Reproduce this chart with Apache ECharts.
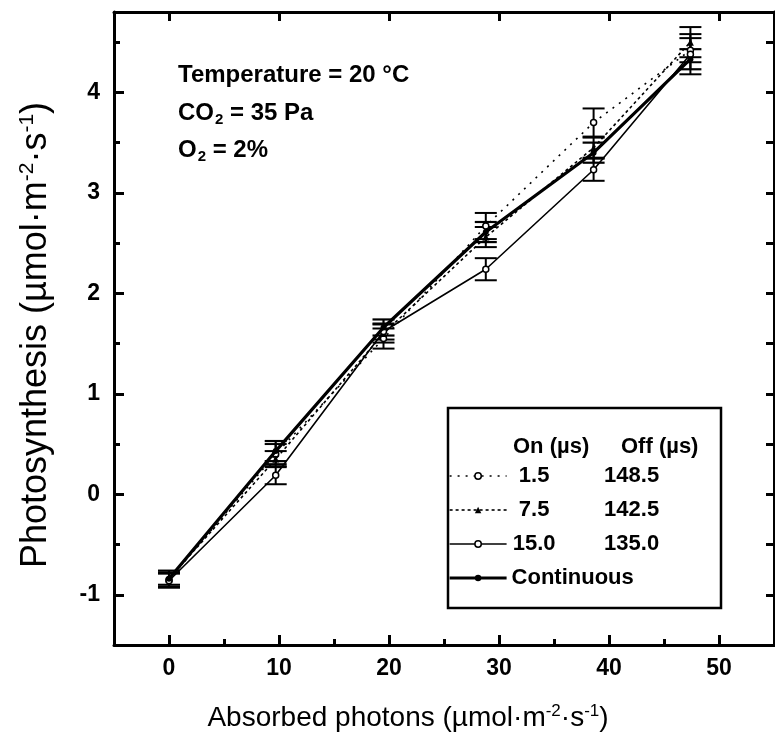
<!DOCTYPE html>
<html>
<head>
<meta charset="utf-8">
<script src="https://cdn.jsdelivr.net/npm/echarts@6/dist/echarts.min.js"></script>
<style>html,body{margin:0;padding:0;background:#fff;}#c{width:775px;height:740px;}</style>
</head>
<body>
<div id="c"></div>
<script>
// ---- data ----
const xPhotons = [0, 9.7, 19.5, 28.8, 38.6, 47.4];
const seriesNames = ['1.5', '7.5', '15.0', 'Continuous'];
const offTimes = ['148.5', '142.5', '135.0', ''];
const on1_5 = [-0.85, 0.40, 1.55, 2.67, 3.70, 4.42];
const err1_5 = [0.07, 0.10, 0.10, 0.13, 0.14, 0.12];
const on7_5 = [-0.84, 0.35, 1.60, 2.56, 3.45, 4.50];
const err7_5 = [0.06, 0.08, 0.09, 0.10, 0.10, 0.15];
const on15_0 = [-0.86, 0.19, 1.62, 2.24, 3.23, 4.38];
const err15_0 = [0.07, 0.09, 0.08, 0.11, 0.11, 0.20];
const cont = [-0.84, 0.43, 1.66, 2.61, 3.40, 4.33];
const errCont = [0.08, 0.10, 0.08, 0.10, 0.10, 0.10];
const xMajorTicks = [0, 10, 20, 30, 40, 50];
const xMinorTicks = [5, 15, 25, 35, 45];
const yMajorTicks = [-1, 0, 1, 2, 3, 4];
const yMinorTicks = [-0.5, 0.5, 1.5, 2.5, 3.5, 4.5];
const yAllTicks = [-1, -0.5, 0, 0.5, 1, 1.5, 2, 2.5, 3, 3.5, 4, 4.5];

const FONT = 'Liberation Sans, Arial, sans-serif';
const chart = echarts.init(document.getElementById('c'), null, {renderer: 'canvas'});

function pts(ys) { return xPhotons.map((x, i) => [x, ys[i]]); }
function errData(ys, es) { return xPhotons.map((x, i) => [x, ys[i] - es[i], ys[i] + es[i]]); }

function errSeries(ys, es, w) {
  return {
    type: 'custom', silent: true, z: 3,
    data: errData(ys, es),
    renderItem: function (params, api) {
      const x = api.value(0);
      const lo = api.coord([x, api.value(1)]);
      const hi = api.coord([x, api.value(2)]);
      const hw = 11;
      const st = {stroke: '#000', lineWidth: w};
      return {type: 'group', children: [
        {type: 'line', shape: {x1: lo[0], y1: lo[1], x2: hi[0], y2: hi[1]}, style: st},
        {type: 'line', shape: {x1: lo[0] - hw, y1: lo[1], x2: lo[0] + hw, y2: lo[1]}, style: st},
        {type: 'line', shape: {x1: hi[0] - hw, y1: hi[1], x2: hi[0] + hw, y2: hi[1]}, style: st}
      ]};
    }
  };
}

const base = {min: -5, max: 55, type: 'value', splitLine: {show: false}};
const ybase = {min: -1.5, max: 4.8, type: 'value', splitLine: {show: false}};

const lineStyles = [
  {color: '#000', width: 1.6, type: [2, 6]},
  {color: '#000', width: 1.6, type: [3, 3]},
  {color: '#000', width: 1.6, type: 'solid'},
  {color: '#000', width: 3.2, type: 'solid'}
];
const itemStyles = [
  {color: '#fff', borderColor: '#000', borderWidth: 1.5},
  {color: '#000', borderColor: '#000', borderWidth: 0},
  {color: '#fff', borderColor: '#000', borderWidth: 1.5},
  {color: '#000', borderColor: '#000', borderWidth: 0}
];
const symbols = ['circle', 'triangle', 'circle', 'circle'];

const option = {
  backgroundColor: '#fff',
  animation: false,
  grid: {left: 114, right: 1, top: 12, bottom: 95, containLabel: false},
  xAxis: [
    Object.assign({}, base, {position: 'bottom',
      axisLine: {show: true, onZero: false, lineStyle: {color: '#000', width: 3}},
      axisTick: {show: true, inside: true, length: 10, lineStyle: {color: '#000', width: 3}, customValues: xMajorTicks},
      axisLabel: {show: true, margin: 12, color: '#000', fontFamily: FONT, fontWeight: 'bold', fontSize: 23, customValues: xMajorTicks}}),
    Object.assign({}, base, {position: 'bottom',
      axisLine: {show: false, onZero: false},
      axisTick: {show: true, inside: true, length: 6, lineStyle: {color: '#000', width: 3}, customValues: xMinorTicks},
      axisLabel: {show: false}}),
    Object.assign({}, base, {position: 'top',
      axisLine: {show: true, onZero: false, lineStyle: {color: '#000', width: 3}},
      axisTick: {show: true, inside: true, length: 9, lineStyle: {color: '#000', width: 3}, customValues: xMajorTicks},
      axisLabel: {show: false}})
  ],
  yAxis: [
    Object.assign({}, ybase, {position: 'left',
      axisLine: {show: true, onZero: false, lineStyle: {color: '#000', width: 3}},
      axisTick: {show: true, inside: true, length: 10, lineStyle: {color: '#000', width: 3}, customValues: yMajorTicks},
      axisLabel: {show: true, margin: 14, color: '#000', fontFamily: FONT, fontWeight: 'bold', fontSize: 23, customValues: yMajorTicks}}),
    Object.assign({}, ybase, {position: 'left',
      axisLine: {show: false, onZero: false},
      axisTick: {show: true, inside: true, length: 6, lineStyle: {color: '#000', width: 3}, customValues: yMinorTicks},
      axisLabel: {show: false}}),
    Object.assign({}, ybase, {position: 'right',
      axisLine: {show: true, onZero: false, lineStyle: {color: '#000', width: 3}},
      axisTick: {show: true, inside: true, length: 8, lineStyle: {color: '#000', width: 3}, customValues: yAllTicks},
      axisLabel: {show: false}})
  ],
  legend: {
    data: seriesNames.map((n, i) => ({name: n, itemStyle: itemStyles[i], lineStyle: lineStyles[i]})),
    orient: 'vertical', left: 448, top: 465, padding: 0,
    itemWidth: 57, itemHeight: 8, itemGap: 12,
    selectedMode: false,
    textStyle: {color: '#000', fontFamily: FONT, fontSize: 22, fontWeight: 'bold',
      rich: {
        a: {width: 45, align: 'right', fontFamily: FONT, fontSize: 22, fontWeight: 'bold', lineHeight: 21, color: '#000'},
        b: {width: 150, align: 'center', fontFamily: FONT, fontSize: 22, fontWeight: 'bold', lineHeight: 21, color: '#000'},
        c: {fontFamily: FONT, fontSize: 22, fontWeight: 'bold', lineHeight: 21, color: '#000'}
      }},
    formatter: function (name) {
      const i = seriesNames.indexOf(name);
      if (offTimes[i] === '') return '{c|' + name + '}';
      return '{a|' + name + '}{b|' + offTimes[i] + '}';
    }
  },
  series: [
    {name: seriesNames[0], type: 'line', data: pts(on1_5), z: 4,
      symbol: symbols[0], symbolSize: 6, lineStyle: lineStyles[0], itemStyle: itemStyles[0]},
    {name: seriesNames[1], type: 'line', data: pts(on7_5), z: 4,
      symbol: symbols[1], symbolSize: 7, lineStyle: lineStyles[1], itemStyle: itemStyles[1]},
    {name: seriesNames[2], type: 'line', data: pts(on15_0), z: 4,
      symbol: symbols[2], symbolSize: 6, lineStyle: lineStyles[2], itemStyle: itemStyles[2]},
    {name: seriesNames[3], type: 'line', data: pts(cont), z: 5,
      symbol: symbols[3], symbolSize: 6, lineStyle: lineStyles[3], itemStyle: itemStyles[3]},
    errSeries(on1_5, err1_5, 2),
    errSeries(on7_5, err7_5, 2),
    errSeries(on15_0, err15_0, 2),
    errSeries(cont, errCont, 2.2)
  ],
  graphic: [
    {type: 'rect', shape: {x: 448, y: 408, width: 273, height: 200}, style: {fill: 'none', stroke: '#000', lineWidth: 2.5}, z: 10},
    {type: 'text', x: 513, y: 447, style: {text: 'On (\u00b5s)', fontFamily: FONT, fontSize: 22, fontWeight: 'bold', fill: '#000', verticalAlign: 'middle'}, z: 10},
    {type: 'text', x: 621, y: 447, style: {text: 'Off (\u00b5s)', fontFamily: FONT, fontSize: 22, fontWeight: 'bold', fill: '#000', verticalAlign: 'middle'}, z: 10},
    {type: 'text', x: 178, y: 75, style: {text: 'Temperature = 20 \u00b0C', fontFamily: FONT, fontSize: 24, fontWeight: 'bold', fill: '#000', verticalAlign: 'middle'}, z: 10},
    {type: 'text', x: 178, y: 113, style: {text: '{n|CO}{s|2}{n| = 35 Pa}', verticalAlign: 'middle',
      rich: {n: {fontFamily: FONT, fontSize: 24, fontWeight: 'bold', fill: '#000'}, s: {fontFamily: FONT, fontSize: 15, fontWeight: 'bold', fill: '#000', padding: [14, 0, 0, 1]}}}, z: 10},
    {type: 'text', x: 178, y: 150, style: {text: '{n|O}{s|2}{n| = 2%}', verticalAlign: 'middle',
      rich: {n: {fontFamily: FONT, fontSize: 24, fontWeight: 'bold', fill: '#000'}, s: {fontFamily: FONT, fontSize: 15, fontWeight: 'bold', fill: '#000', padding: [14, 0, 0, 1]}}}, z: 10},
    {type: 'text', x: 408, y: 718, style: {text: '{n|Absorbed photons (\u00b5mol\u00b7m}{p|-2}{n|\u00b7s}{p|-1}{n|)}', align: 'center', verticalAlign: 'middle',
      rich: {n: {fontFamily: FONT, fontSize: 28, fill: '#000'}, p: {fontFamily: FONT, fontSize: 17, fill: '#000', padding: [0, 0, 14, 0]}}}, z: 10},
    {type: 'text', x: 36, y: 335, rotation: Math.PI / 2, style: {text: '{n|Photosynthesis (\u00b5mol\u00b7m}{p|-2}{n|\u00b7s}{p|-1}{n|)}', align: 'center', verticalAlign: 'middle',
      rich: {n: {fontFamily: FONT, fontSize: 36, fill: '#000'}, p: {fontFamily: FONT, fontSize: 21, fill: '#000', padding: [0, 0, 18, 0]}}}, z: 10}
  ]
};
chart.setOption(option);
</script>
</body>
</html>
